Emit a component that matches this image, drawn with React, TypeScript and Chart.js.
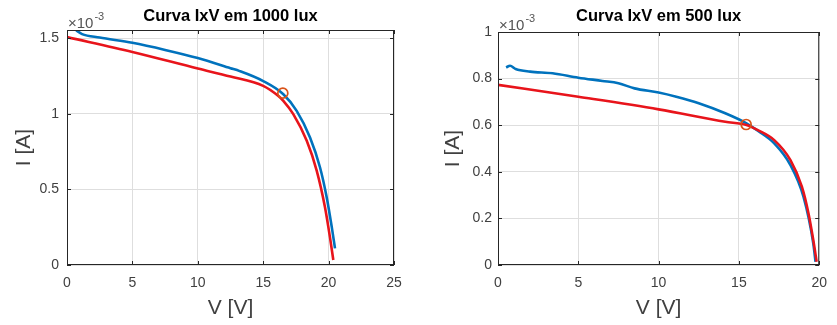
import React, { useEffect, useRef } from "react";
import { Chart, registerables } from "chart.js";
Chart.register(...registerables);

const FONT = "'Liberation Sans', Arial, Helvetica, sans-serif";

// ---- 1000 lux (current in units of 1e-3 A) ----
const v1000Blue = [0.7, 1.15, 2.5, 5, 7.5, 10, 12.5, 13.2, 15, 16.54, 17.56, 18.58, 19.34, 19.85, 20.24, 20.49];
const i1000Blue = [1.553, 1.528, 1.505, 1.47, 1.423, 1.369, 1.302, 1.283, 1.217, 1.13, 1.02, 0.844, 0.647, 0.45, 0.252, 0.11];
const v1000Red = [0, 5, 10, 12.5, 15, 16.16, 16.54, 17.3, 18.33, 19.09, 19.72, 20.1, 20.36];
const i1000Red = [1.508, 1.41, 1.3, 1.247, 1.185, 1.118, 1.086, 0.998, 0.822, 0.625, 0.384, 0.186, 0.033];
const v1000Mpp = [16.5];
const i1000Mpp = [1.137];
const x1000Ticks = [0, 5, 10, 15, 20, 25];
const y1000Ticks = [0, 0.5, 1, 1.5];

// ---- 500 lux ----
const v500Blue = [0.5, 0.75, 1.1, 2, 3.4, 5, 6.5, 7.5, 8.5, 10, 11.1, 12.5, 14.15, 15.47, 16.2, 17.2, 18.21, 19.02, 19.63, 19.77];
const i500Blue = [0.848, 0.855, 0.841, 0.83, 0.823, 0.804, 0.79, 0.78, 0.758, 0.74, 0.722, 0.694, 0.651, 0.608, 0.575, 0.522, 0.429, 0.293, 0.093, 0.014];
const v500Red = [0, 5, 10, 14.15, 15.47, 16.18, 17.2, 18.21, 18.92, 19.33, 19.63, 19.84];
const i500Red = [0.773, 0.722, 0.668, 0.615, 0.601, 0.579, 0.536, 0.45, 0.336, 0.222, 0.107, 0.014];
const v500Mpp = [15.45];
const i500Mpp = [0.603];
const x500Ticks = [0, 5, 10, 15, 20];
const y500Ticks = [0, 0.2, 0.4, 0.6, 0.8, 1];

const zip = (xs: number[], ys: number[]) => xs.map((x, k) => ({ x, y: ys[k] }));

const framePlugin = {
  id: "frame",
  afterDraw(chart: any, _args: any, opts: any) {
    const { ctx, chartArea } = chart;
    const { left, top, right, bottom } = chartArea;
    ctx.save();
    ctx.strokeStyle = "#262626";
    ctx.lineWidth = 1;
    ctx.strokeRect(left + 0.5, top + 0.5, right - left - 1, bottom - top - 1);
    // inward ticks
    const xs = chart.scales.x;
    const ys = chart.scales.y;
    ctx.beginPath();
    xs.ticks.forEach((t: any) => {
      const px = Math.round(xs.getPixelForValue(t.value)) + 0.5;
      ctx.moveTo(px, bottom);
      ctx.lineTo(px, bottom - 4);
      ctx.moveTo(px, top);
      ctx.lineTo(px, top + 4);
    });
    ys.ticks.forEach((t: any) => {
      const py = Math.round(ys.getPixelForValue(t.value)) + 0.5;
      ctx.moveTo(left, py);
      ctx.lineTo(left + 4, py);
      ctx.moveTo(right, py);
      ctx.lineTo(right - 4, py);
    });
    ctx.stroke();
    // title
    ctx.fillStyle = "#000";
    ctx.font = `bold 16.5px ${FONT}`;
    ctx.textAlign = "center";
    ctx.textBaseline = "middle";
    ctx.fillText(opts.title, (left + right) / 2, 16);
    // exponent
    ctx.fillStyle = "#555";
    ctx.textAlign = "left";
    ctx.textBaseline = "alphabetic";
    ctx.font = `15px ${FONT}`;
    ctx.fillText("×10", left + 1, top - 2);
    const w = ctx.measureText("×10").width;
    ctx.font = `11px ${FONT}`;
    ctx.fillText("-3", left + 2 + w, top - 10);
    ctx.restore();
  },
};

type Cfg = {
  title: string;
  vBlue: number[];
  iBlue: number[];
  vRed: number[];
  iRed: number[];
  vMpp: number[];
  iMpp: number[];
  xTicks: number[];
  yTicks: number[];
  xMax: number;
  yMax: number;
  width: number;
  yAxisWidth: number;
  padTop: number;
  padRight: number;
  yTitlePad: number;
  yTickPad: number;
};

function IVChart({ cfg, left }: { cfg: Cfg; left: number }) {
  const ref = useRef<HTMLCanvasElement>(null);
  useEffect(() => {
    const tickColor = "#404040";
    const chart = new Chart(ref.current as HTMLCanvasElement, {
      type: "scatter",
      data: {
        datasets: [
          {
            data: zip(cfg.vMpp, cfg.iMpp),
            showLine: false,
            pointRadius: 5,
            pointBorderWidth: 1.7,
            pointBorderColor: "#D95319",
            pointBackgroundColor: "rgba(0,0,0,0)",
          },
          {
            data: zip(cfg.vRed, cfg.iRed),
            showLine: true,
            borderColor: "#E8141B",
            borderWidth: 2.6,
            pointRadius: 0,
            cubicInterpolationMode: "monotone",
          },
          {
            data: zip(cfg.vBlue, cfg.iBlue),
            showLine: true,
            borderColor: "#0072BD",
            borderWidth: 2.6,
            pointRadius: 0,
            cubicInterpolationMode: "monotone",
          },
        ],
      } as any,
      options: {
        animation: false,
        responsive: false,
        layout: { padding: { top: cfg.padTop, right: cfg.padRight, left: 0, bottom: 0 } },
        plugins: {
          legend: { display: false },
          tooltip: { enabled: false },
          frame: { title: cfg.title },
        } as any,
        scales: {
          x: {
            type: "linear",
            min: 0,
            max: cfg.xMax,
            afterBuildTicks: (axis: any) => {
              axis.ticks = cfg.xTicks.map((v) => ({ value: v }));
            },
            afterFit: (axis: any) => {
              axis.height = 60;
            },
            grid: { color: "#dedede", drawTicks: false },
            border: { display: false },
            ticks: {
              padding: 10,
              color: tickColor,
              font: { family: FONT, size: 14 },
              callback: (v: any) => String(v),
            },
            title: {
              display: true,
              text: "V [V]",
              color: tickColor,
              font: { family: FONT, size: 21 },
              padding: { top: 0, bottom: 4 },
            },
          },
          y: {
            type: "linear",
            min: 0,
            max: cfg.yMax,
            afterBuildTicks: (axis: any) => {
              axis.ticks = cfg.yTicks.map((v) => ({ value: v }));
            },
            afterFit: (axis: any) => {
              axis.width = cfg.yAxisWidth;
            },
            grid: { color: "#dedede", drawTicks: false },
            border: { display: false },
            ticks: {
              padding: cfg.yTickPad,
              color: tickColor,
              font: { family: FONT, size: 14 },
              callback: (v: any) => String(Math.round(v * 10) / 10),
            },
            title: {
              display: true,
              text: "I [A]",
              color: tickColor,
              font: { family: FONT, size: 21 },
              padding: { top: cfg.yTitlePad, bottom: 0 },
            },
          },
        },
      } as any,
      plugins: [framePlugin],
    });
    return () => chart.destroy();
  }, [cfg]);
  return (
    <div style={{ position: "absolute", left, top: 0, width: cfg.width, height: 325 }}>
      <canvas ref={ref} width={cfg.width} height={325} />
    </div>
  );
}

const cfg1000: Cfg = {
  title: "Curva IxV em 1000 lux",
  vBlue: v1000Blue,
  iBlue: i1000Blue,
  vRed: v1000Red,
  iRed: i1000Red,
  vMpp: v1000Mpp,
  iMpp: i1000Mpp,
  xTicks: x1000Ticks,
  yTicks: y1000Ticks,
  xMax: 25,
  yMax: 1.555,
  width: 418,
  yAxisWidth: 67,
  padTop: 30,
  padRight: 24,
  yTitlePad: 12,
  yTickPad: 8,
};

const cfg500: Cfg = {
  title: "Curva IxV em 500 lux",
  vBlue: v500Blue,
  iBlue: i500Blue,
  vRed: v500Red,
  iRed: i500Red,
  vMpp: v500Mpp,
  iMpp: i500Mpp,
  xTicks: x500Ticks,
  yTicks: y500Ticks,
  xMax: 20,
  yMax: 1,
  width: 419,
  yAxisWidth: 80,
  padTop: 32,
  padRight: 11,
  yTitlePad: 23,
  yTickPad: 6,
};

export default function App() {
  return (
    <div style={{ position: "absolute", left: 0, top: 0, width: 837, height: 325, background: "#fff" }}>
      <IVChart cfg={cfg1000} left={0} />
      <IVChart cfg={cfg500} left={418} />
    </div>
  );
}
